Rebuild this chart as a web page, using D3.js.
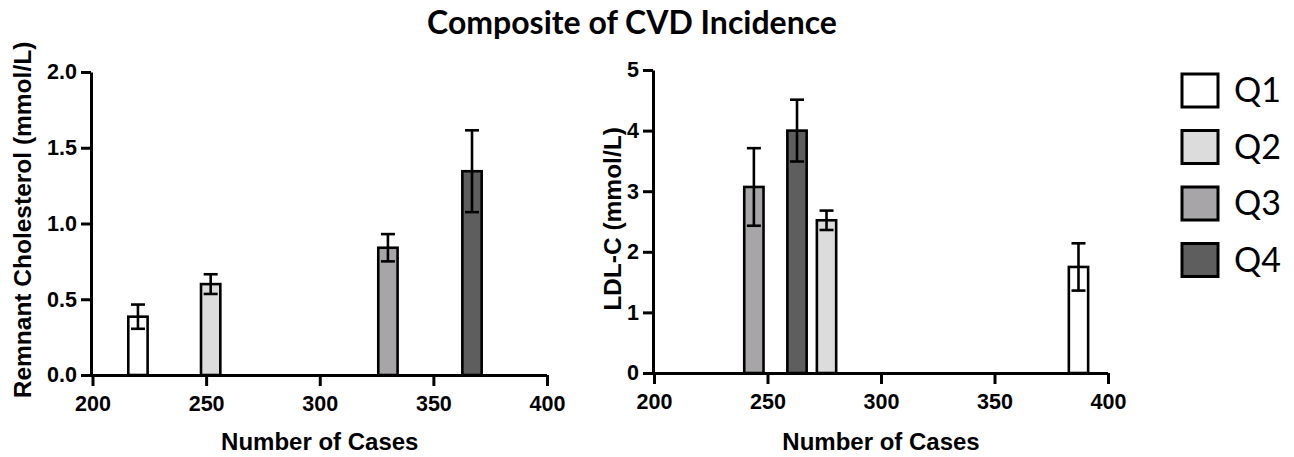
<!DOCTYPE html>
<html>
<head>
<meta charset="utf-8">
<script src="https://cdn.jsdelivr.net/npm/d3@7"></script>
<style>
  html, body { margin: 0; padding: 0; background: #fff; }
  svg { display: block; }
</style>
</head>
<body>
<svg id="chart" width="1294" height="457"></svg>
<script>
// Quartile groups and their fills
const quartiles = ["Q1", "Q2", "Q3", "Q4"];
const quartileFills = ["#ffffff", "#dcdcdc", "#a7a5a8", "#5e5e5e"];

// Remnant cholesterol panel: cases, mean and error per quartile
const remnantCases = [220, 252, 330, 367];
const remnantMean = [0.385, 0.60, 0.84, 1.345];
const remnantErr = [0.08, 0.065, 0.09, 0.27];

// LDL-C panel: cases, mean and error per quartile
const ldlCases = [387, 276, 244, 263];
const ldlMean = [1.75, 2.52, 3.07, 4.0];
const ldlErr = [0.39, 0.16, 0.64, 0.51];

// Axis ticks
const caseTicks = [200, 250, 300, 350, 400];
const remnantTicks = [0, 0.5, 1.0, 1.5, 2.0];
const ldlTicks = [0, 1, 2, 3, 4, 5];

const AXIS_FONT = "'Liberation Sans', Arimo, Arial, sans-serif";
const TITLE_FONT = "Lato, 'Open Sans', sans-serif";

const svg = d3.select("#chart");

svg.append("text")
  .attr("x", 632).attr("y", 34)
  .attr("text-anchor", "middle")
  .style("font-family", TITLE_FONT)
  .style("font-weight", "bold")
  .style("font-size", "32px")
  .text("Composite of CVD Incidence");

function styleAxis(sel) {
  sel.selectAll("path, line").attr("stroke", "#000").attr("stroke-width", 3);
  sel.selectAll("text")
    .style("font-family", AXIS_FONT)
    .style("font-weight", "bold")
    .style("font-size", "21.5px")
    .attr("fill", "#000");
}

function panel(opts) {
  const g = svg.append("g");
  const x = d3.scaleLinear().domain([200, 400]).range([opts.x0, opts.x1]);
  const y = d3.scaleLinear().domain(opts.yDomain).range([opts.y0, opts.y1]);
  const barHalf = 4.25; // bar width in case units, halved

  const rows = quartiles.map((q, i) => ({
    q, fill: quartileFills[i], cases: opts.cases[i], mean: opts.mean[i], err: opts.err[i]
  }));

  // bars
  g.selectAll("rect.bar").data(rows).join("rect")
    .attr("class", "bar")
    .attr("x", d => x(d.cases - barHalf))
    .attr("width", d => x(d.cases + barHalf) - x(d.cases - barHalf))
    .attr("y", d => y(d.mean))
    .attr("height", d => y(0) - y(d.mean))
    .attr("fill", d => d.fill)
    .attr("stroke", "#000")
    .attr("stroke-width", 2.6);

  // error bars
  const eb = g.selectAll("g.err").data(rows).join("g").attr("class", "err");
  eb.append("line")
    .attr("x1", d => x(d.cases)).attr("x2", d => x(d.cases))
    .attr("y1", d => y(d.mean + d.err)).attr("y2", d => y(d.mean - d.err))
    .attr("stroke", "#000").attr("stroke-width", 2.6);
  [1, -1].forEach(s => {
    eb.append("line")
      .attr("x1", d => x(d.cases) - 7).attr("x2", d => x(d.cases) + 7)
      .attr("y1", d => y(d.mean + s * d.err)).attr("y2", d => y(d.mean + s * d.err))
      .attr("stroke", "#000").attr("stroke-width", 2.6);
  });

  // axes
  const xAxis = g.append("g")
    .attr("transform", `translate(0,${opts.y0})`)
    .call(d3.axisBottom(x).tickValues(caseTicks).tickSize(11).tickSizeOuter(0).tickPadding(10));
  xAxis.select(".domain").attr("d", `M${opts.yAxisX},0.5H${opts.x1}`);
  styleAxis(xAxis);

  const yAxis = g.append("g")
    .attr("transform", `translate(${opts.yAxisX},0)`)
    .call(d3.axisLeft(y).tickValues(opts.yTicks).tickFormat(opts.fmt).tickSize(10).tickSizeOuter(0).tickPadding(4));
  styleAxis(yAxis);

  g.append("text")
    .attr("x", (opts.x0 + opts.x1) / 2).attr("y", 450)
    .attr("text-anchor", "middle")
    .style("font-family", AXIS_FONT).style("font-weight", "bold").style("font-size", "24px")
    .text("Number of Cases");

  g.append("text")
    .attr("transform", `translate(${opts.titleX},${opts.titleY}) rotate(-90)`)
    .attr("text-anchor", "middle")
    .style("font-family", AXIS_FONT).style("font-weight", "bold").style("font-size", "24.5px")
    .text(opts.yTitle);
}

panel({
  x0: 92.5, x1: 547, y0: 375, y1: 72, yAxisX: 91,
  yDomain: [0, 2], yTicks: remnantTicks, fmt: d3.format(".1f"),
  cases: remnantCases, mean: remnantMean, err: remnantErr,
  yTitle: "Remnant Cholesterol (mmol/L)", titleX: 31, titleY: 220
});

panel({
  x0: 654, x1: 1108, y0: 373, y1: 70, yAxisX: 653,
  yDomain: [0, 5], yTicks: ldlTicks, fmt: d3.format("d"),
  cases: ldlCases, mean: ldlMean, err: ldlErr,
  yTitle: "LDL-C (mmol/L)", titleX: 621, titleY: 219
});

// legend
const legend = svg.append("g");
const lg = legend.selectAll("g").data(quartiles).join("g")
  .attr("transform", (d, i) => `translate(1182,${74 + i * 56.5})`);
lg.append("rect")
  .attr("width", 36).attr("height", 33)
  .attr("fill", (d, i) => quartileFills[i])
  .attr("stroke", "#000").attr("stroke-width", 3);
lg.append("text")
  .attr("x", 52).attr("y", 28)
  .style("font-family", TITLE_FONT)
  .style("font-size", "34px")
  .text(d => d);
</script>
</body>
</html>
